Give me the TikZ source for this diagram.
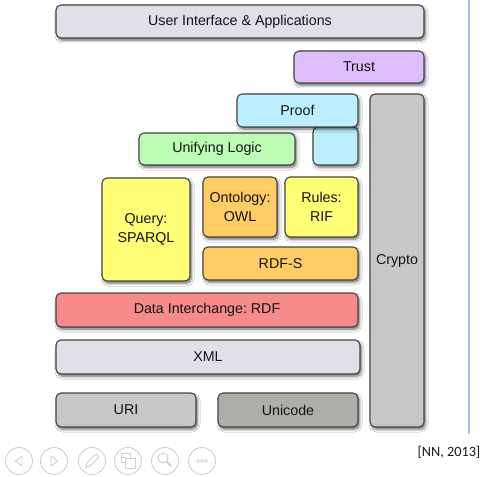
\documentclass[tikz,border=0pt]{standalone}
\usepackage{fontspec}
\setmainfont{Liberation Sans}
\newfontfamily\notefont{Carlito}
\usetikzlibrary{shadows.blur}
\frenchspacing

\definecolor{edge}{HTML}{444444}
\definecolor{cUI}{HTML}{E0E0EA}
\definecolor{cTrust}{HTML}{DDBDFA}
\definecolor{cProof}{HTML}{BDEEFD}
\definecolor{cLogic}{HTML}{BDFCB5}
\definecolor{cYellow}{HTML}{FFFF77}
\definecolor{cOrange}{HTML}{FFCC66}
\definecolor{cRDF}{HTML}{F78B8B}
\definecolor{cGray}{HTML}{C8C8C8}
\definecolor{cUni}{HTML}{AEAEA8}
\definecolor{cIcon}{HTML}{CFCFCF}
\definecolor{cRule}{HTML}{A9C3E6}

\tikzset{
  lbl/.style={font=\fontsize{14.3}{18.5}\selectfont, text=black!92},
  blk/.style={lbl, draw=edge, line width=1.1bp, rounded corners=5bp, inner sep=0pt,
    align=center,
    blur shadow={shadow xshift=1.5bp, shadow yshift=-2.5bp, shadow opacity=55,
      shadow blur steps=6, shadow blur radius=2.5bp}},
  icon/.style={draw=cIcon, line width=0.9bp},
}

% place a block by its corners (x1,y1) -- (x2,y2), y measured downwards
\newcommand{\blkbox}[7]{%
  \pgfmathsetmacro{\bw}{#4-#2}\pgfmathsetmacro{\bh}{#5-#3}%
  \node[blk, fill=#6, minimum width=\bw bp, minimum height=\bh bp]
    (#1) at ({(#2+#4)/2},{(#3+#5)/2}) {#7};}

\begin{document}
\begin{tikzpicture}[x=1bp, y=-1bp]
\useasboundingbox (0,0) rectangle (482,477);
\fill[white] (0,0) rectangle (482,477);

\blkbox{ui}{56}{5}{424}{38}{cUI}{User Interface \& Applications}
\blkbox{trust}{294}{51}{424}{83}{cTrust}{Trust}
\blkbox{crypto}{370}{94}{424}{427}{cGray}{}
\node[lbl] (cryptolabel) at (397,261) {Crypto};
\blkbox{cyan}{313}{127}{358}{165}{cProof}{}
\blkbox{proof}{237}{94}{358}{127}{cProof}{Proof}
\blkbox{logic}{139}{133}{295}{165}{cLogic}{Unifying Logic}
\blkbox{query}{102}{178}{190}{281}{cYellow}{Query:\\SPARQL}
\blkbox{owl}{203}{177}{277}{237}{cOrange}{Ontology:\\OWL}
\blkbox{rif}{285}{177}{358}{237}{cYellow}{Rules:\\RIF}
\blkbox{rdfs}{203}{247}{358}{280}{cOrange}{RDF-S}
\blkbox{rdf}{56}{293}{358}{327}{cRDF}{Data Interchange: RDF}
\blkbox{xml}{56}{340}{360}{374}{cUI}{XML}
\blkbox{uri}{56}{393}{196}{427}{cGray}{URI}
\blkbox{unicode}{218}{393}{358}{427}{cUni}{Unicode}

% slide margin rule
\draw[cRule, line width=1.3bp] (469,0) -- (469,434);

% citation
\node[font=\notefont\fontsize{14.3}{16}\selectfont, text=black!90, anchor=east, inner sep=0pt] (cite) at (480.5,452) {[NN, 2013]};

% slide-show control buttons
\foreach \cx in {19,54,92,128,165,202}{\draw[icon] (\cx,461) circle (13.5);}
% previous
\draw[icon, line join=round] (22,456) -- (15.5,461) -- (22,466) -- cycle;
% next
\draw[icon, line join=round] (51,456) -- (57.5,461) -- (51,466) -- cycle;
% pen
\draw[icon, line join=round] (86,467) -- (87,463) -- (96,454) -- (99,457) -- (90,466) -- cycle;
\draw[icon] (86,467) -- (84.5,468.5);
% slides
\draw[icon] (121,453) rectangle (130,462);
\draw[icon, fill=white] (125,458) rectangle (135,468);
\draw[icon] (121,457.5) -- (125,457.5);
% zoom
\draw[icon] (163,458) circle (5);
\draw[icon, line width=2bp, line cap=round] (166.8,461.8) -- (171,466);
% more
\foreach \dx in {-4,0,4}{\draw[icon, line width=0.7bp] (202+\dx,461) circle (1.5);}
\end{tikzpicture}
\end{document}
